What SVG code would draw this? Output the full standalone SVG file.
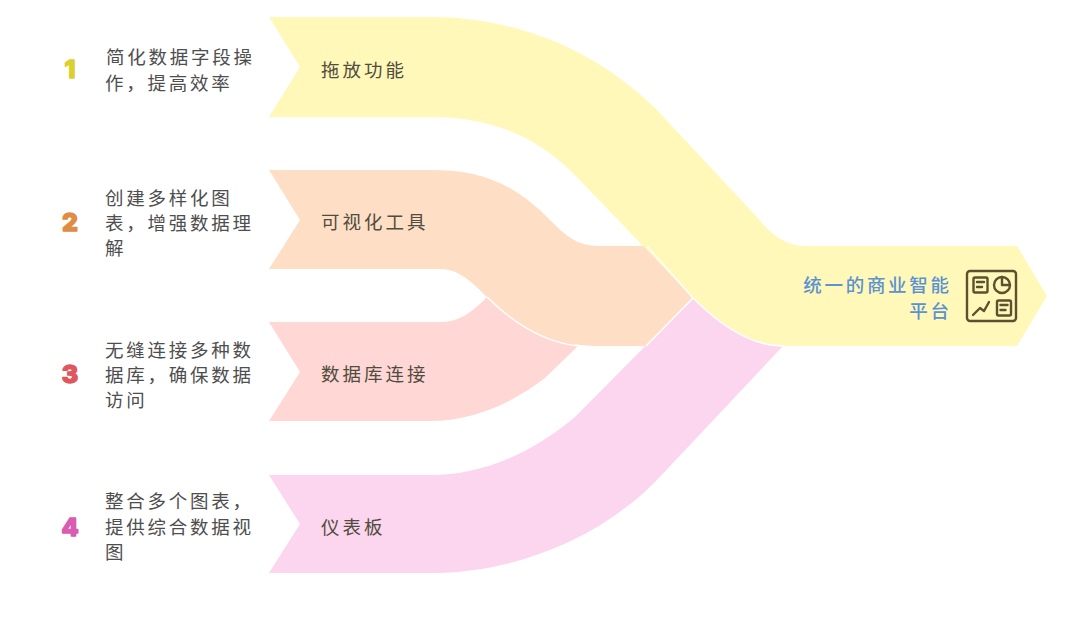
<svg xmlns="http://www.w3.org/2000/svg" width="1080" height="639" viewBox="0 0 1080 639">
<style>
.t{font-family:"Noto Sans CJK SC","Noto Sans",sans-serif;font-size:18.500px;font-weight:400;letter-spacing:2.750px;fill:#4e4e4e}
.l{font-family:"Noto Sans CJK SC","Noto Sans",sans-serif;font-size:18.500px;font-weight:400;letter-spacing:3px;fill:#504c40}
.n{font-family:Inter,"Liberation Sans",sans-serif;font-size:25px;font-weight:800;text-anchor:middle;stroke-width:1.500px;stroke-linejoin:round}
.b{font-family:"Noto Sans CJK SC","Noto Sans",sans-serif;font-size:18.500px;font-weight:500;letter-spacing:2.700px;fill:#5a92d2;text-anchor:end}
.s{fill:none;stroke:#fff;stroke-width:1.500px}
.i{fill:none;stroke:#5b5030;stroke-width:2.400px;stroke-linejoin:round;stroke-linecap:round}
</style>
<rect width="1080" height="639" fill="#fff"/>
<g id="connectors">
<path fill="#fcd5ee" d="M269,475 H430 C480,475 530,455 575,417 L693,298 L783,346 L655,482 C595,542 510,573 430,573 H269 L300,524 Z"/>
<path fill="#ffd7d5" d="M269,322 H440 C460,322 472,312 487,297 L578,346 L545,378 C510,405 470,421 430,421 H269 L300,372 Z"/>
<path fill="#fedfc5" d="M269,170 H430 C480,170 510,182 545,215 C565,235 575,246 600,246 H647 L693,298 L646,346 H600 C555,346 520,330 487,297 C470,280 458,269 440,269 H269 L300,220 Z"/>
<path fill="#fff8b8" d="M269,17 H430 C510,17 590,45 655,108 L755,215 C770,233 783,246 805,246 H1017 L1047,296 L1017,346 H790 C750,346 720,325 693,298 L575,175 C535,135 490,117 430,117 H269 L300,67 Z"/>
<path class="s" d="M647,246 L693,298 L646,346 M693,298 C720,325 750,346 783,346 M487,297 C515,325 545,342 578,346"/>
</g>
<g id="node-1">
<text class="n" x="70" y="78" fill="#dcd02e" stroke="#dcd02e">1</text>
<text class="t" x="106" y="64">简化数据字段操</text>
<text class="t" x="105" y="90">作，提高效率</text>
<text class="l" x="321" y="77">拖放功能</text>
</g>
<g id="node-2">
<text class="n" x="70" y="231" fill="#df8c45" stroke="#df8c45">2</text>
<text class="t" x="105" y="205">创建多样化图</text>
<text class="t" x="105" y="230">表，增强数据理</text>
<text class="t" x="105" y="255">解</text>
<text class="l" x="321" y="229">可视化工具</text>
</g>
<g id="node-3">
<text class="n" x="70" y="383" fill="#e0565e" stroke="#e0565e">3</text>
<text class="t" x="105" y="357">无缝连接多种数</text>
<text class="t" x="105" y="382">据库，确保数据</text>
<text class="t" x="105" y="407">访问</text>
<text class="l" x="321" y="381">数据库连接</text>
</g>
<g id="node-4">
<text class="n" x="70" y="536" fill="#d95cb0" stroke="#d95cb0">4</text>
<text class="t" x="105" y="508">整合多个图表，</text>
<text class="t" x="105" y="534">提供综合数据视</text>
<text class="t" x="105" y="559">图</text>
<text class="l" x="321" y="534">仪表板</text>
</g>
<g id="node-platform">
<text class="b" x="951.700" y="292">统一的商业智能</text>
<text class="b" x="951.700" y="318">平台</text>
<g id="platform-icon" class="i">
<rect x="967" y="271" width="49" height="50" rx="3"/>
<rect x="973.500" y="277.500" width="14" height="15" rx="1.500"/>
<path d="M977,282 H984 M977,287 H982"/>
<circle cx="1002" cy="285" r="8"/>
<path d="M1002,277 V285 H1010"/>
<path d="M973,315 L980,308 L984,311 L989,302"/>
<rect x="997" y="300.500" width="14" height="15" rx="1.500"/>
<path d="M1000.500,305 H1007.500 M1000.500,310 H1005.500"/>
</g>
</g>
</svg>
